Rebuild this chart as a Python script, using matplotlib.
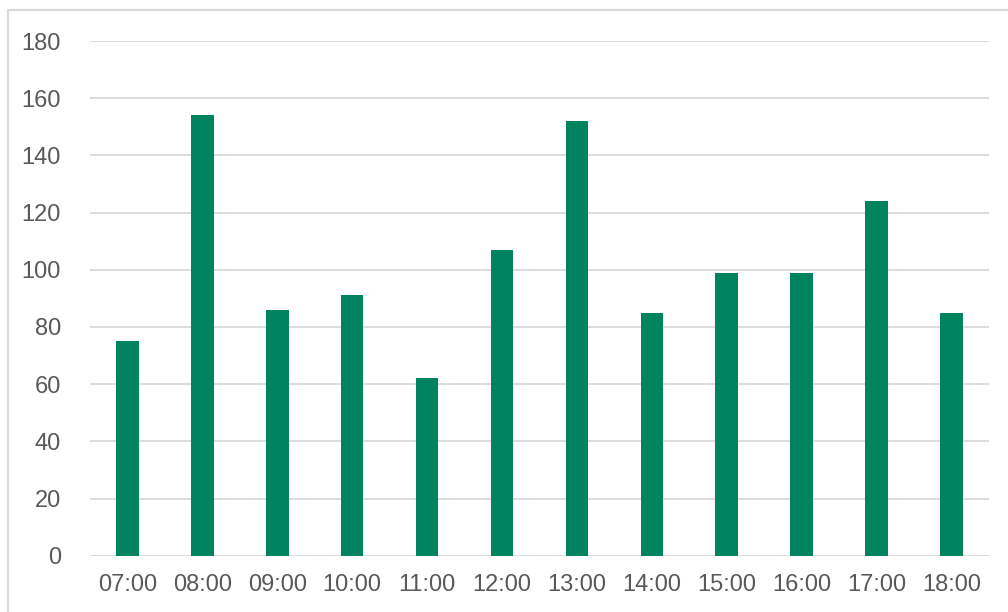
import matplotlib
matplotlib.use('Agg')
import matplotlib.pyplot as plt
from matplotlib.patches import Rectangle

# Hourly counts
hours = ['07:00', '08:00', '09:00', '10:00', '11:00', '12:00',
         '13:00', '14:00', '15:00', '16:00', '17:00', '18:00']
counts = [75, 154, 86, 91, 62, 107, 152, 85, 99, 99, 124, 85]
y_ticks = [0, 20, 40, 60, 80, 100, 120, 140, 160, 180]

plt.rcParams['font.family'] = ['Liberation Sans', 'DejaVu Sans']

fig = plt.figure(figsize=(10.08, 6.12), dpi=100)
ax = fig.add_axes([0.0893, 0.092, 0.8917, 0.841])

# light frame around the whole chart area
fig.patches.append(Rectangle((8 / 1008, -0.01), 1.5, 1 - 10 / 612 + 0.01,
                             transform=fig.transFigure, fill=False,
                             edgecolor='#D9D9D9', linewidth=1.5))

x = range(len(hours))
ax.bar(x, counts, width=0.3, color='#00845F', zorder=3)

ax.set_xlim(-0.5, len(hours) - 0.5)
ax.set_ylim(0, 180)
ax.set_yticks(y_ticks)
ax.set_xticks(list(x))
ax.set_xticklabels(hours)

for y in y_ticks:
    ax.axhline(y, color='#D9D9D9', linewidth=1.3, zorder=1)

for s in ax.spines.values():
    s.set_visible(False)

ax.tick_params(axis='both', length=0, labelsize=17, labelcolor='#595959')
ax.tick_params(axis='y', pad=21)
ax.tick_params(axis='x', pad=13)

plt.savefig('out.png', dpi=100)
